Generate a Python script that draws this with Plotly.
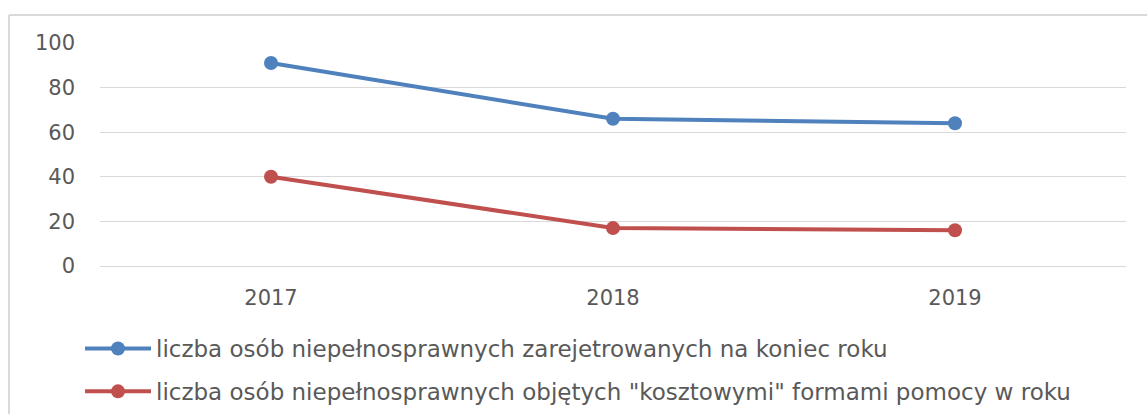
import plotly.graph_objects as go

years = ["2017", "2018", "2019"]
registered = [91, 66, 64]
supported = [40, 17, 16]
names = [
    "liczba osób niepełnosprawnych zarejetrowanych na koniec roku",
    'liczba osób niepełnosprawnych objętych "kosztowymi" formami pomocy w roku',
]
colors = ["#4f81bd", "#c0504d"]
y_ticks = [0, 20, 40, 60, 80, 100]

fig = go.Figure()
for vals, name, col, grp in [(registered, names[0], colors[0], "a"), (supported, names[1], colors[1], "b")]:
    fig.add_trace(go.Scatter(
        x=years, y=vals, name=name, mode="lines+markers",
        line=dict(color=col, width=4), marker=dict(color=col, size=14),
        legendgroup=grp,
    ))

W, H = 1147, 414
L, R, T, B = 100, 21, 43, 148
pw, ph = W - L - R, H - T - B

def px(x):
    return (x - L) / pw

def py(y):
    return (H - B - y) / ph

FONT = "DejaVu Sans, sans-serif"
FS = 21
LFS = 23

fig.update_layout(
    width=W, height=H,
    margin=dict(l=L, r=R, t=T, b=B, autoexpand=False),
    paper_bgcolor="white", plot_bgcolor="white",
    font=dict(family=FONT, size=FS, color="#595959"),
    showlegend=True,
    legend=dict(
        orientation="v", xref="container", yref="container",
        x=80 / W, y=1 - 327 / H, xanchor="left", yanchor="top",
        font=dict(family=FONT, size=LFS, color="#595959"), tracegroupgap=10,
        itemwidth=66, bgcolor="rgba(0,0,0,0)",
    ),
    xaxis=dict(
        type="category", range=[-0.5, 2.5], showgrid=False, zeroline=False,
        showline=False, ticks="", ticklabelstandoff=17,
        tickfont=dict(family=FONT, size=FS, color="#595959"),
    ),
    yaxis=dict(
        range=[0, 100], tickvals=y_ticks, showgrid=True, gridcolor="#d9d9d9",
        gridwidth=1, zeroline=True, zerolinecolor="#d9d9d9", zerolinewidth=1,
        showline=False, ticks="", ticklabelstandoff=24,
        tickfont=dict(family=FONT, size=FS, color="#595959"),
    ),
    shapes=[
        dict(type="line", xref="paper", yref="paper", x0=px(9), x1=px(W + 5), y0=py(15), y1=py(15),
             line=dict(color="#d9d9d9", width=2)),
        dict(type="line", xref="paper", yref="paper", x0=px(9), x1=px(9), y0=py(15), y1=py(H + 5),
             line=dict(color="#d9d9d9", width=2)),
    ],
)

fig.write_html("out.html")
